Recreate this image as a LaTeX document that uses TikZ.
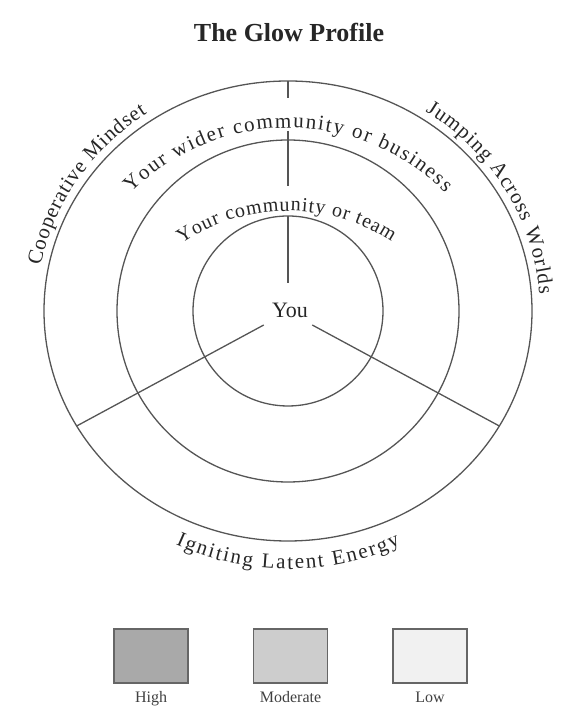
\documentclass[tikz,border=0pt]{standalone}
\usepackage{fontspec}
\setmainfont{Liberation Serif}
\usetikzlibrary{calc, positioning, decorations.text}

\definecolor{inkgray}{HTML}{555555}
\definecolor{highfill}{HTML}{A9A9A9}
\definecolor{modfill}{HTML}{CDCDCD}
\definecolor{lowfill}{HTML}{F1F1F1}

\tikzset{
  ring/.style={draw=inkgray, line width=1.3pt},
  arclabel/.style={decorate, decoration={text along path, text align={fit to path}, text color=black!85}},
  keybox/.style={draw=black!60, line width=1.5pt, minimum width=74pt, minimum height=54pt, inner sep=0pt},
  keylabel/.style={font=\fontsize{16}{16}\selectfont, text=black!75, text height=1.6ex, text depth=.5ex}
}

\begin{document}
\begin{tikzpicture}[x=1pt, y=1pt]
  \useasboundingbox (0,0) rectangle (565,714);
  \coordinate (C) at (288,403);

  % Title
  \node[font=\fontsize{26}{26}\selectfont\bfseries, text=black!85] (title) at (289,682) {The Glow Profile};

  % Rings
  \draw[ring] (C) ellipse[x radius=244, y radius=230];
  \draw[ring] (C) circle[radius=171];
  \draw[ring] (C) circle[radius=95];

  % Centre
  \node[font=\fontsize{22}{22}\selectfont, text=black!85] (you) at (290,404) {You};

  % Lower spokes
  \foreach \a in {210,330}{
    \coordinate (in\a) at ($(C)+(\a:28)$);
    \coordinate (out\a) at ($(C)+({244*cos(\a)},{230*sin(\a)})$);
    \draw[ring] (in\a) -- (out\a);
  }

  % Upper spoke, broken by the labels
  \coordinate (up0) at ($(C)+(0,230)$);
  \coordinate (up1) at ($(C)+(0,213)$);
  \coordinate (up2) at ($(C)+(0,180)$);
  \coordinate (up3) at ($(C)+(0,125)$);
  \coordinate (up4) at ($(C)+(0,95)$);
  \coordinate (up5) at ($(C)+(0,28)$);
  \draw[ring] (up0) -- (up1);
  \draw[ring] (up2) -- (up3);
  \draw[ring] (up4) -- (up5);

  % Outer labels
  \path[arclabel, decoration={text={|\fontsize{21}{21}\selectfont|Cooperative Mindset}}]
    ($(C)+({252*cos(169)},{238*sin(169)})$) arc[start angle=169, end angle=124, x radius=252, y radius=238];
  \path[arclabel, decoration={text={|\fontsize{21}{21}\selectfont|Jumping Across Worlds}}]
    ($(C)+({252*cos(57)},{238*sin(57)})$) arc[start angle=57, end angle=4, x radius=252, y radius=238];
  \path[arclabel, decoration={text={|\fontsize{21}{21}\selectfont|Igniting Latent Energy}}]
    ($(C)+({266*cos(245)},{258*sin(245)})$) arc[start angle=245, end angle=295, x radius=266, y radius=258];

  % Ring labels, on flatter arcs
  \coordinate (wideC) at ($(C)+(0,-39)$);
  \coordinate (teamC) at ($(C)+(0,-90)$);
  \path[arclabel, decoration={text={|\fontsize{21}{21}\selectfont|Your wider community or business}}]
    ($(wideC)+(135:222)$) arc[start angle=135, end angle=45, radius=222];
  \path[arclabel, decoration={text={|\fontsize{20}{20}\selectfont|Your community or team}}]
    ($(teamC)+(124:190)$) arc[start angle=124, end angle=57, radius=190];

  % Key
  \node[keybox, fill=highfill] (high) at (151,58) {};
  \node[keybox, fill=modfill, right=64pt of high] (moderate) {};
  \node[keybox, fill=lowfill, right=64pt of moderate] (low) {};
  \node[keylabel, below=8pt of high] (highlbl) {High};
  \node[keylabel, below=8pt of moderate] (moderatelbl) {Moderate};
  \node[keylabel, below=8pt of low] (lowlbl) {Low};
\end{tikzpicture}
\end{document}
